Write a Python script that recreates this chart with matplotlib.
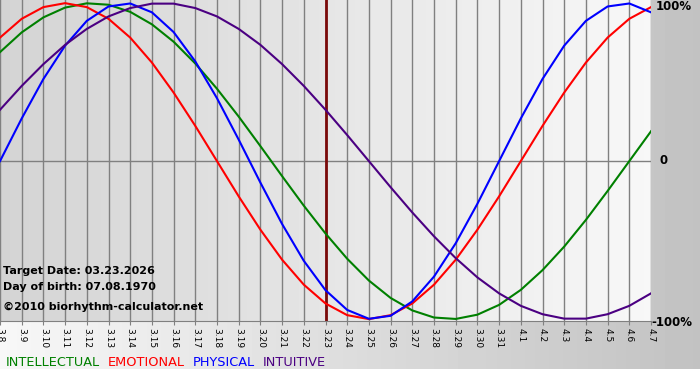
import numpy as np
import matplotlib.pyplot as plt

# days shown on the chart (month.day), target date in the middle
days = ['3.8', '3.9', '3.10', '3.11', '3.12', '3.13', '3.14', '3.15', '3.16', '3.17',
        '3.18', '3.19', '3.20', '3.21', '3.22', '3.23', '3.24', '3.25', '3.26', '3.27',
        '3.28', '3.29', '3.30', '3.31', '4.1', '4.2', '4.3', '4.4', '4.5', '4.6', '4.7']
target = '3.23'

# values, one per day (-1 .. 1)
physical = [0.0, 0.27, 0.52, 0.731, 0.888, 0.979, 0.998, 0.942, 0.817, 0.631,
            0.398, 0.136, -0.136, -0.398, -0.631, -0.817, -0.942, -0.998, -0.979, -0.888,
            -0.731, -0.52, -0.27, 0.0, 0.27, 0.52, 0.731, 0.888, 0.979, 0.998, 0.942]
emotional = [0.782, 0.901, 0.975, 1.0, 0.975, 0.901, 0.782, 0.624, 0.434, 0.223,
             0.0, -0.223, -0.434, -0.624, -0.782, -0.901, -0.975, -1.0, -0.975, -0.901,
             -0.782, -0.624, -0.434, -0.223, 0.0, 0.223, 0.434, 0.624, 0.782, 0.901, 0.975]
intellectual = [0.69, 0.815, 0.91, 0.972, 0.999, 0.99, 0.945, 0.866, 0.756, 0.618,
                0.458, 0.282, 0.095, -0.095, -0.282, -0.458, -0.618, -0.756, -0.866, -0.945,
                -0.99, -0.999, -0.972, -0.91, -0.815, -0.69, -0.541, -0.372, -0.189, 0.0, 0.189]
intuitive = [0.325, 0.476, 0.614, 0.736, 0.837, 0.916, 0.969, 0.997, 0.997, 0.969,
             0.916, 0.837, 0.736, 0.614, 0.476, 0.325, 0.165, 0.0, -0.165, -0.325,
             -0.476, -0.614, -0.736, -0.837, -0.916, -0.969, -0.997, -0.997, -0.969, -0.916, -0.837]

series = [('INTELLECTUAL', intellectual, '#008000'),
          ('EMOTIONAL', emotional, '#ff0000'),
          ('PHYSICAL', physical, '#0000ff'),
          ('INTUITIVE', intuitive, '#4b0082')]

W, H = 700, 380
fig = plt.figure(figsize=(7, 3.8), dpi=100)

# gray background gradient behind everything
bg = fig.add_axes([0, 0, 1, 1], zorder=-5)
grad = np.linspace(0.97, 0.76, 200).reshape(1, -1)
bg.imshow(grad, cmap='gray', vmin=0, vmax=1, aspect='auto', extent=[0, W, 0, H])
bg.axhspan(0, H - 369, color='white', lw=0)
bg.set_xlim(0, W)
bg.set_ylim(0, H)
bg.axis('off')

ax = fig.add_axes([0, (H - 321) / H, 651 / W, 321 / H])
x = np.arange(len(days))
ax.set_xlim(0, len(days) - 1)
ax.set_ylim(-1.012, 1.02)

# plot area goes from gray on the left to nearly white on the right
pgrad = np.linspace(0.83, 0.97, 200).reshape(1, -1)
ax.imshow(pgrad, cmap='gray', vmin=0, vmax=1, aspect='auto',
          extent=[0, len(days) - 1, -1.012, 1.02], zorder=0)

for xi in x:
    ax.axvline(xi, color='#808080', lw=1, zorder=1)
ax.axhline(0, color='#808080', lw=1, zorder=1)
ax.axvline(days.index(target), color='#7a0a0a', lw=2, zorder=2)

for name, vals, col in series:
    ax.plot(x, vals, color=col, lw=1.5, zorder=3)

ax.set_xticks(x)
ax.set_xticklabels(days, rotation=270, fontsize=6.5)
ax.tick_params(axis='x', length=3, color='#808080', pad=2)
ax.set_yticks([])
for s in ['top', 'left', 'right']:
    ax.spines[s].set_visible(False)
ax.spines['bottom'].set_color('#808080')

# right side percentage labels
fig.text(656 / W, 1 - 7 / H, '100%', fontsize=8.5, fontweight='bold', va='center')
fig.text(659 / W, 1 - 161 / H, '0', fontsize=8.5, fontweight='bold', va='center')
fig.text(651 / W, 1 - 322 / H, '-100%', fontsize=8.5, fontweight='bold', va='center')

info = ['Target Date: 03.23.2026', 'Day of birth: 07.08.1970', '\u00a92010 biorhythm-calculator.net']
for txt, yy in zip(info, [271, 287, 307]):
    fig.text(3 / W, 1 - yy / H, txt, fontsize=8, fontweight='bold', va='center')

# legend line at the bottom
xpos = 6
for name, vals, col in series:
    t = fig.text(xpos / W, 1 - 362 / H, name, fontsize=9.3, color=col, va='center')
    fig.canvas.draw()
    bb = t.get_window_extent()
    xpos += bb.width + 8

fig.savefig('out.png', dpi=100)
